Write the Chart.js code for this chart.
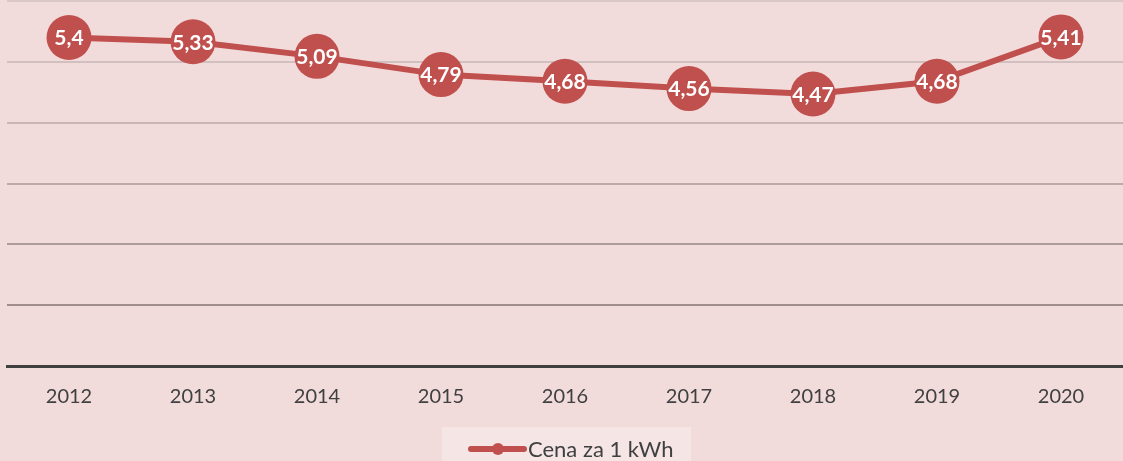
<!DOCTYPE html>
<html><head><meta charset="utf-8">
<script src="https://cdn.jsdelivr.net/npm/chart.js@4/dist/chart.umd.min.js"></script>
<style>html,body{margin:0;padding:0;background:#f2dcdb;}#wrap{width:1123px;height:461px;position:relative;}</style>
</head><body><div id="wrap"><canvas id="c" width="1123" height="461"></canvas></div>
<script>
const categories = ["2012","2013","2014","2015","2016","2017","2018","2019","2020"];
const prices = [5.4, 5.33, 5.09, 4.79, 4.68, 4.56, 4.47, 4.68, 5.41];
const priceLabels = ["5,4","5,33","5,09","4,79","4,68","4,56","4,47","4,68","5,41"];
const seriesName = "Cena za 1 kWh";
const gridColors = ["#404040","#a08d8d","#ae9b9b","#bcaaaa","#c8b6b6","#d2c0c0","#dac8c8"];

const labelPlugin = {
  id: 'pointLabels',
  afterDatasetsDraw(chart) {
    const ctx = chart.ctx;
    const meta = chart.getDatasetMeta(0);
    ctx.save();
    ctx.font = 'bold 21px Lato, "Open Sans", sans-serif';
    ctx.fillStyle = '#ffffff';
    ctx.textAlign = 'center';
    ctx.textBaseline = 'middle';
    meta.data.forEach((pt, i) => { ctx.fillText(priceLabels[i], pt.x, pt.y + 1); });
    ctx.restore();
  }
};
const legendPlugin = {
  id: 'customLegend',
  afterDraw(chart) {
    const ctx = chart.ctx;
    ctx.save();
    ctx.fillStyle = '#f5e5e5';
    ctx.fillRect(442, 427, 249, 40);
    ctx.strokeStyle = '#c0504d';
    ctx.lineWidth = 6;
    ctx.lineCap = 'round';
    ctx.beginPath(); ctx.moveTo(471, 449); ctx.lineTo(524, 449); ctx.stroke();
    ctx.fillStyle = '#c0504d';
    ctx.beginPath(); ctx.arc(498, 449, 6, 0, Math.PI * 2); ctx.fill();
    ctx.fillStyle = '#404040';
    ctx.font = '22px Lato, "Open Sans", sans-serif';
    ctx.textAlign = 'left';
    ctx.textBaseline = 'middle';
    ctx.fillText(chart.data.datasets[0].label, 528, 450);
    ctx.restore();
  }
};

new Chart(document.getElementById('c'), {
  type: 'line',
  data: {
    labels: categories,
    datasets: [{
      label: seriesName,
      data: prices,
      borderColor: '#c0504d',
      backgroundColor: '#c0504d',
      borderWidth: 6,
      pointRadius: 22.5,
      pointHoverRadius: 22.5,
      pointBackgroundColor: '#c0504d',
      pointBorderWidth: 0,
      tension: 0,
      clip: false
    }]
  },
  options: {
    responsive: false,
    animation: false,
    events: [],
    layout: { autoPadding: false, padding: { left: 7, right: 0, top: 1, bottom: 46 } },
    plugins: { legend: { display: false }, tooltip: { enabled: false } },
    scales: {
      x: {
        offset: true,
        grid: { display: false, drawTicks: false },
        border: { display: true, color: '#404040', width: 3 },
        ticks: { color: '#404040', font: { size: 20, family: 'Lato, "Open Sans", sans-serif' }, padding: 19, maxRotation: 0 },
        afterFit(s) { s.height = 49; }
      },
      y: {
        min: 0, max: 6,
        ticks: { display: false, stepSize: 1 },
        border: { display: false },
        grid: { drawTicks: false, lineWidth: 2, color: (c) => gridColors[c.index] || '#dac8c8' },
        afterFit(s) { s.width = 0; }
      }
    }
  },
  plugins: [labelPlugin, legendPlugin]
});
</script></body></html>
